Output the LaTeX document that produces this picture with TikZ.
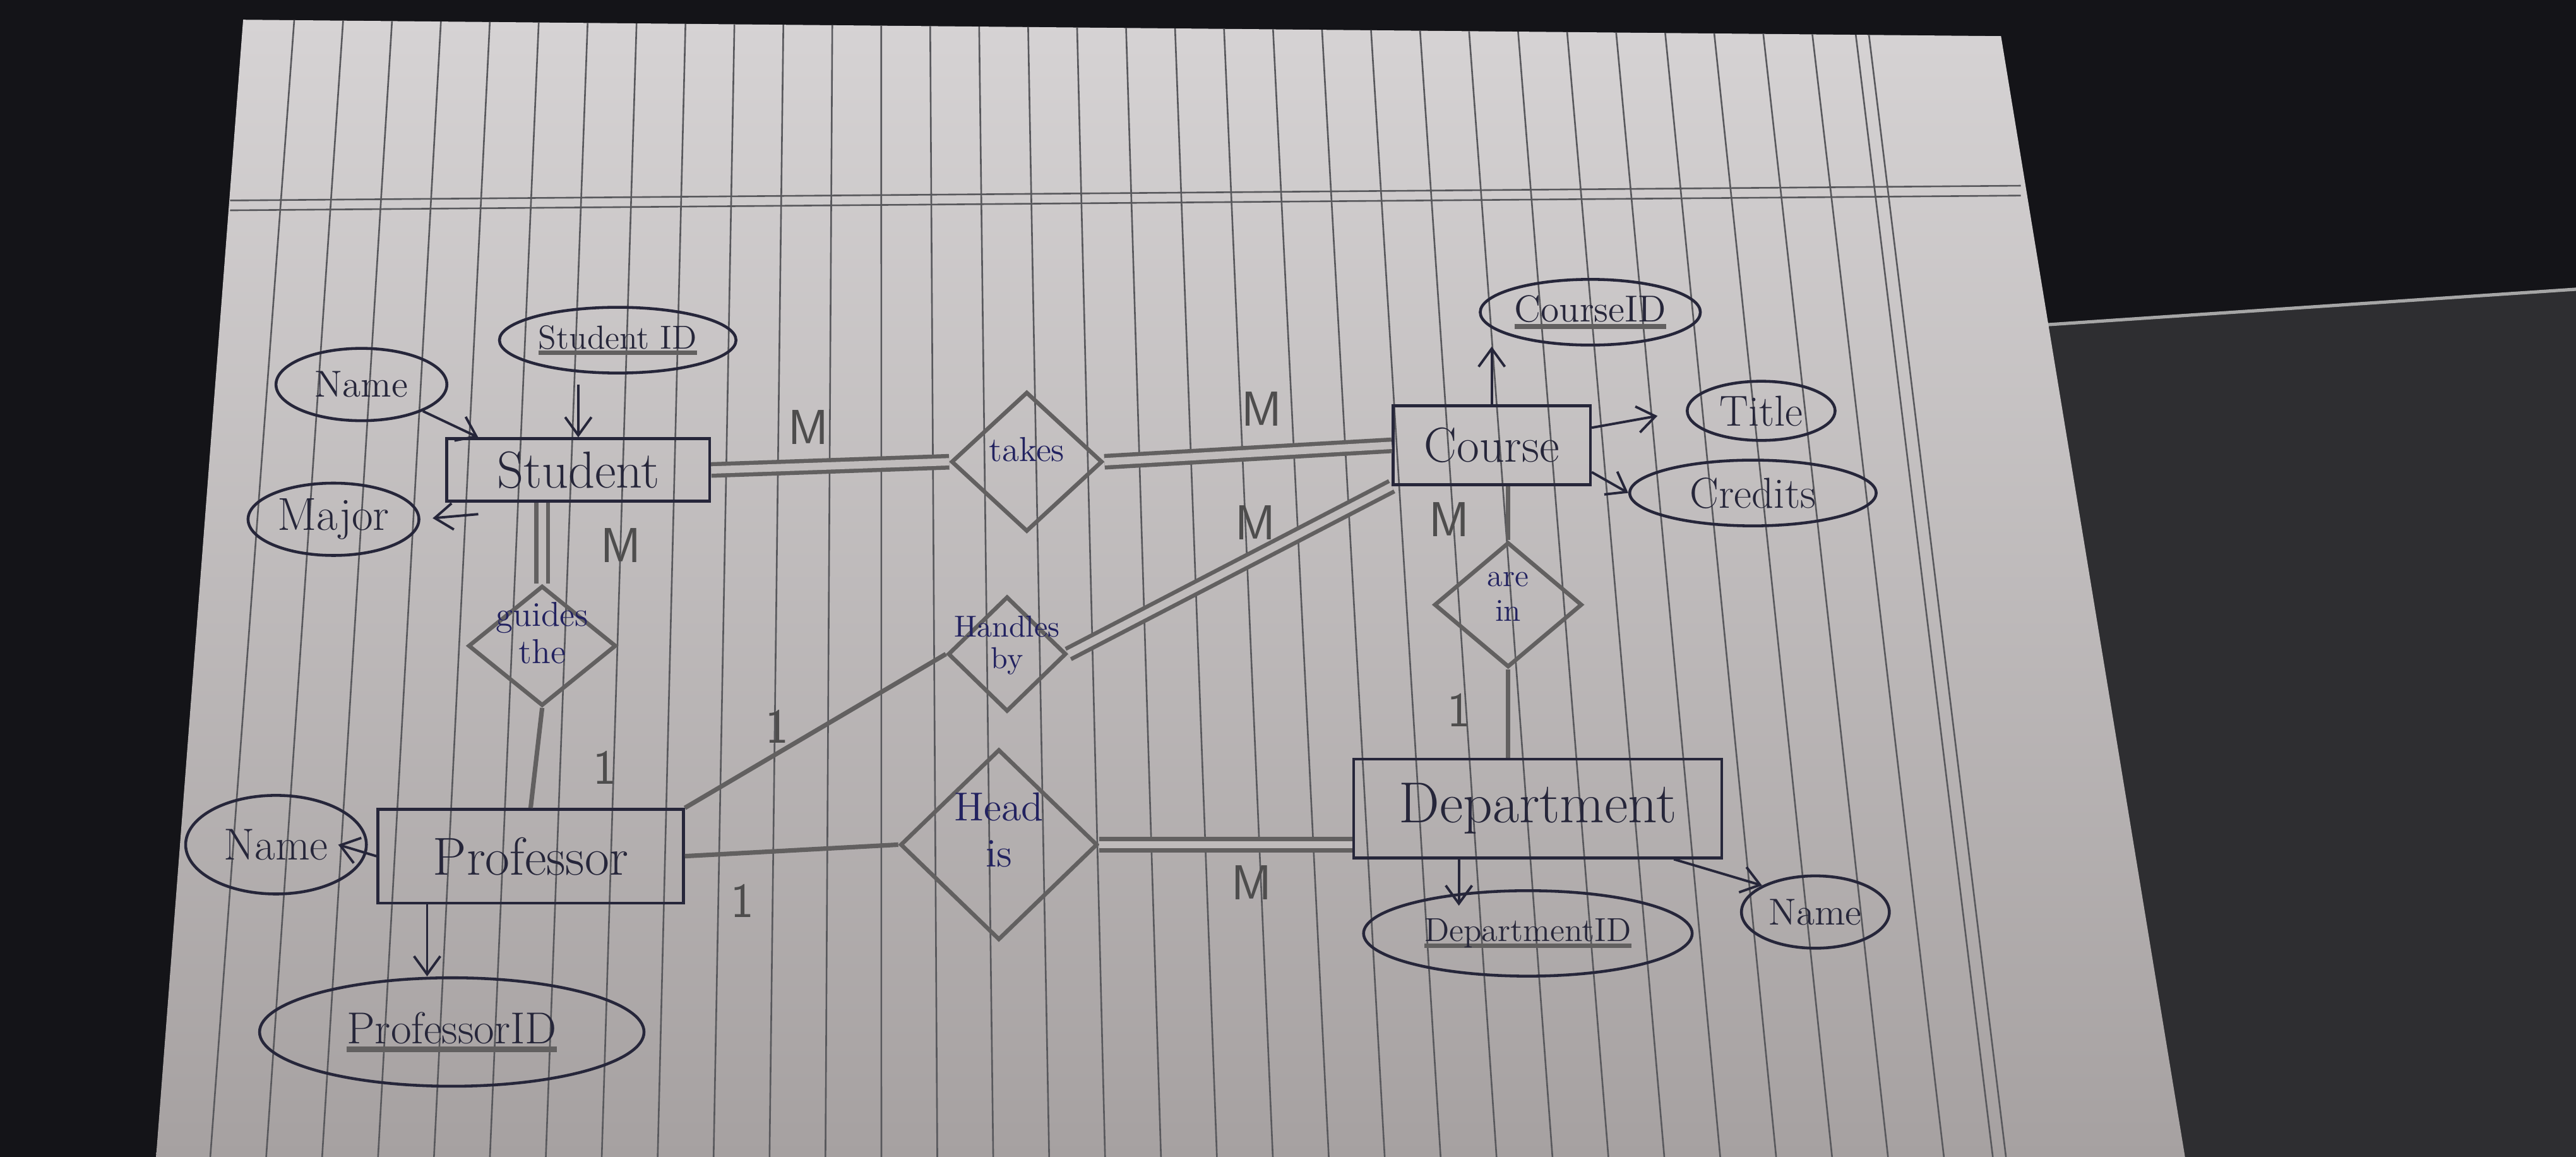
\documentclass[tikz,border=0pt]{standalone}
\usetikzlibrary{shapes.geometric,arrows.meta}

\definecolor{inkc}{RGB}{38,38,58}
\definecolor{bluink}{RGB}{34,34,96}
\definecolor{pencilc}{RGB}{98,96,96}
\definecolor{paperc}{RGB}{192,188,188}
\definecolor{paperhi}{RGB}{214,211,212}
\definecolor{paperlo}{RGB}{166,161,161}
\definecolor{rulec}{RGB}{88,88,92}
\definecolor{nightc}{RGB}{20,20,24}
\definecolor{tablec}{RGB}{46,46,49}

% key attribute: thick underline
\newcommand{\pkey}[1]{\setbox0=\hbox{#1}\rlap{\color{pencilc}\rule[-0.45ex]{\wd0}{0.13em}}\box0}
% text that does not widen a diamond
\newcommand{\zbox}[1]{\smash{\makebox[0pt]{\begin{tabular}{@{}c@{}}#1\end{tabular}}}}

\begin{document}
\begin{tikzpicture}[x=0.2mm,y=-0.2mm,
	entity/.style={draw=inkc,line width=0.35mm,inner sep=0,text=inkc},
	attrib/.style={ellipse,draw=inkc,line width=0.35mm,inner sep=0,text=inkc},
	relation/.style={diamond,draw=pencilc,line width=0.5mm,inner sep=0,text=bluink},
	dbl/.style={draw=pencilc,line width=0.5mm,double=paperc,double distance=0.9mm},
	sgl/.style={draw=pencilc,line width=0.55mm},
	attr/.style={draw=inkc,line width=0.3mm,-{Straight Barb[length=2.2mm,width=3.2mm]}},
	card/.style={text=pencilc!80!black,font=\fontsize{17}{17}\selectfont\sffamily},
	ruling/.style={draw=rulec,line width=0.2mm}]
	\useasboundingbox (0,0) rectangle (1568,704);
	% photo background and sheet
	\fill[nightc] (0,0) rectangle (1568,704);
	\fill[tablec] (1240,198) -- (1568,176) -- (1568,704) -- (1330,704) -- cycle;
	\draw[gray!70,line width=0.4mm] (1240,198) -- (1568,176);
	\shade[top color=paperhi,bottom color=paperlo] (148,12) -- (1218,22) -- (1330,704) -- (95,704) -- cycle;
	\begin{scope}
		\clip (148,12) -- (1218,22) -- (1330,704) -- (95,704) -- cycle;
		\foreach \i in {0,...,31}
			\draw[ruling] ({180+29.7*\i},0) -- ({128+34.04*\i},704);
		\draw[ruling] (1127,0) -- (1213,704);
		\draw[ruling] (1135,0) -- (1221,704);
		\draw[ruling] (140,122) -- (1230,113);
		\draw[ruling] (140,128) -- (1230,119);
	\end{scope}

	% entities
	\node[entity,minimum width=32mm,minimum height=7.6mm,font=\fontsize{18}{20}\selectfont] (student) at (352,286) {Student};
	\node[entity,minimum width=24mm,minimum height=9.6mm,font=\fontsize{17}{19}\selectfont] (course) at (908,271) {Course};
	\node[entity,minimum width=44.8mm,minimum height=12mm,font=\fontsize{20}{22}\selectfont] (dept) at (936,492) {Department};
	\node[entity,minimum width=37.2mm,minimum height=11.4mm,font=\fontsize{18.5}{20}\selectfont] (prof) at (323,521) {Professor};

	% attributes
	\node[attrib,minimum width=28.8mm,minimum height=8mm,font=\fontsize{11.5}{13}\selectfont] (sid) at (376,207) {\pkey{Student ID}};
	\node[attrib,minimum width=20.8mm,minimum height=8.8mm,font=\fontsize{13}{15}\selectfont] (sname) at (220,234) {Name};
	\node[attrib,minimum width=20.8mm,minimum height=8.8mm,font=\fontsize{16}{18}\selectfont] (major) at (203,316) {Major};
	\node[attrib,minimum width=26.8mm,minimum height=8mm,font=\fontsize{13}{15}\selectfont] (cid) at (968,190) {\pkey{CourseID}};
	\node[attrib,minimum width=18mm,minimum height=7.2mm,font=\fontsize{15}{17}\selectfont] (title) at (1072,250) {Title};
	\node[attrib,minimum width=30mm,minimum height=8mm,font=\fontsize{15}{17}\selectfont] (credits) at (1067,300) {Credits};
	\node[attrib,minimum width=40mm,minimum height=10.4mm,font=\fontsize{11.5}{13}\selectfont] (did) at (930,568) {\pkey{DepartmentID}};
	\node[attrib,minimum width=18mm,minimum height=8.8mm,font=\fontsize{13}{15}\selectfont] (dname) at (1105,555) {Name};
	\node[attrib,minimum width=22mm,minimum height=12mm,font=\fontsize{15.5}{17}\selectfont] (pname) at (168,514) {Name};
	\node[attrib,minimum width=46.8mm,minimum height=13.2mm,font=\fontsize{15.5}{17}\selectfont] (pid) at (275,628) {\pkey{ProfessorID}};

	% relationships
	\node[relation,minimum width=18.4mm,minimum height=17mm,font=\fontsize{12}{14}\selectfont] (takes) at (625,281) {\zbox{takes}};
	\node[relation,minimum width=18mm,minimum height=14.6mm,font=\fontsize{12}{13}\selectfont] (guides) at (330,393) {\zbox{guides\\the}};
	\node[relation,minimum width=14.4mm,minimum height=14mm,font=\fontsize{10.5}{11}\selectfont] (handles) at (613,398) {\zbox{Handles\\by}};
	\node[relation,minimum width=24mm,minimum height=23.2mm,font=\fontsize{14}{16}\selectfont] (headis) at (608,514) {\zbox{Head\\is}};
	\node[relation,minimum width=18mm,minimum height=15.2mm,font=\fontsize{11}{12}\selectfont] (arein) at (918,368) {\zbox{are\\in}};

	% attribute arrows
	\draw[attr] (sname.south east) -- ([xshift=4mm]student.north west);
	\draw[attr,shorten <=1.2mm] (sid.south -| student.north) -- (student.north);
	\draw[attr,shorten >=1.5mm] ([shift={(4mm,-1.4mm)}]student.south west) -- (major.east);
	\draw[attr] (course.north) -- (course.north |- cid.south);
	\draw[attr,shorten >=3.5mm] (course.10) -- (title.west);
	\draw[attr] (course.-15) -- (credits.west);
	\draw[attr,shorten >=-2mm] ([xshift=-9.6mm]dept.south) -- ([xshift=-9.6mm]dept.south |- did.north);
	\draw[attr] ([xshift=-6mm]dept.south east) -- (dname.north west);
	\draw[attr] (prof.west) -- ([xshift=-3.6mm]pname.east);
	\draw[attr] ([xshift=-12.6mm]prof.south) -- ([xshift=-12.6mm]prof.south |- pid.north);

	% relationship lines
	\draw[dbl] (student.east) -- (takes.west);
	\draw[dbl] (takes.east) -- (course.west);
	\draw[dbl] (student.south -| guides.north) -- (guides.north);
	\draw[sgl] (guides.south) -- (prof.north);
	\draw[sgl] (prof.north east) -- (handles.west);
	\draw[dbl] (handles.east) -- (course.south west);
	\draw[sgl] (prof.east) -- (headis.west);
	\draw[dbl] (headis.east) -- (headis.east -| dept.west);
	\draw[sgl] (course.south -| arein.north) -- (arein.north);
	\draw[sgl] (arein.south) -- (arein.south |- dept.north);

	% cardinalities
	\node[card] (c1) at (492,260) {M};
	\node[card] (c2) at (768,249) {M};
	\node[card] (c3) at (378,332) {M};
	\node[card] (c4) at (368,467) {1};
	\node[card] (c5) at (764,318) {M};
	\node[card] (c6) at (473,442) {1};
	\node[card] (c7) at (452,548) {1};
	\node[card] (c8) at (762,537) {M};
	\node[card] (c9) at (882,316) {M};
	\node[card] (c10) at (888,432) {1};
\end{tikzpicture}
\end{document}
